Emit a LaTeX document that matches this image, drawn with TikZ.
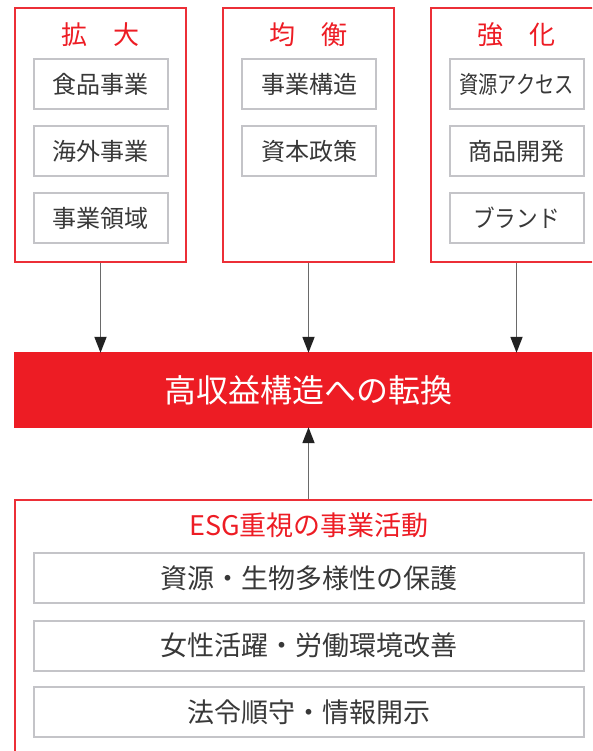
\documentclass[tikz,border=0pt]{standalone}
\usepackage{fontspec}
\setmainfont{Noto Sans CJK JP}
\usetikzlibrary{arrows.meta}
\definecolor{brand}{HTML}{ED1C24}
\definecolor{frame}{HTML}{EC2F37}
\definecolor{itemline}{HTML}{C4C4C8}
\definecolor{ink}{HTML}{383838}
\definecolor{shaft}{HTML}{6A6A6A}
\definecolor{tip}{HTML}{222222}
\begin{document}
\begin{tikzpicture}[x=1pt,y=-1pt,
  group/.style={draw=frame, line width=2pt, inner sep=0pt, minimum width=171pt, minimum height=254pt},
  grouptitle/.style={text=brand, font=\fontsize{26}{26}\selectfont, inner sep=0pt},
  item/.style={draw=itemline, line width=2pt, inner sep=0pt, minimum width=134pt, minimum height=50pt, text=ink, font=\fontsize{24}{24}\selectfont},
  esgitem/.style={draw=itemline, line width=2pt, inner sep=0pt, minimum width=550pt, minimum height=50pt, text=ink, font=\fontsize{27}{27}\selectfont},
  arr/.style={draw=shaft, line width=1.8pt, -{Triangle[length=16pt,width=12pt,color=tip]}, shorten >=-1pt}
]
\useasboundingbox (0,0) rectangle (592,751);
\clip (0,0) rectangle (592,751);

% top groups
\node[group] (g1) at (100.5,135) {};
\node[group] (g2) at (308.5,135) {};
\node[group] (g3) at (516.5,135) {};

\node[grouptitle] (t1) at (100.5,35) {拡\hspace{1em}大};
\node[grouptitle] (t2) at (308.5,35) {均\hspace{1em}衡};
\node[grouptitle] (t3) at (516.5,35) {強\hspace{1em}化};

\node[item] (a1) at (100.5,84) {食品事業};
\node[item] (a2) at (100.5,151) {海外事業};
\node[item] (a3) at (100.5,218) {事業領域};

\node[item] (b1) at (309,84) {事業構造};
\node[item] (b2) at (309,151) {資本政策};

\node[item] (c1) at (516.5,84) {\scalebox{0.8}[1]{資源アクセス}};
\node[item] (c2) at (516.5,151) {商品開発};
\node[item] (c3) at (516.5,218) {\scalebox{0.9}[1]{ブランド}};

% central bar
\node[fill=brand, draw=none, minimum width=588pt, minimum height=76pt, inner sep=0pt,
      text=white, font=\fontsize{32}{32}\selectfont] (bar) at (308,390) {高収益構造への転換};

% ESG group
\node[draw=frame, line width=2pt, minimum width=587pt, minimum height=270pt, inner sep=0pt] (esg) at (308.5,635) {};
\node[text=brand, font=\fontsize{27}{27}\selectfont, inner sep=0pt] (esgt) at (309,525) {ESG重視の事業活動};
\node[esgitem] (e1) at (309,578) {資源・生物多様性の保護};
\node[esgitem] (e2) at (309,645.5) {女性活躍・労働環境改善};
\node[esgitem] (e3) at (309,712) {法令順守・情報開示};

% arrows
\draw[arr] (g1.south) -- (g1.south |- bar.north);
\draw[arr] (g2.south) -- (g2.south |- bar.north);
\draw[arr] (g3.south) -- (g3.south |- bar.north);
\draw[arr] (esg.north) -- (esg.north |- bar.south);
\end{tikzpicture}
\end{document}
